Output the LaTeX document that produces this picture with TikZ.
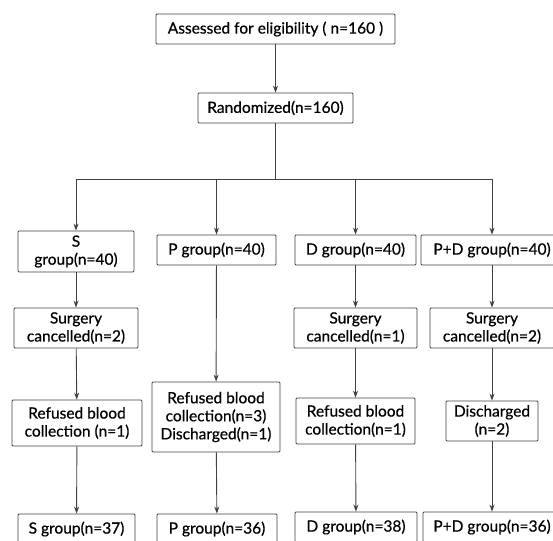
\documentclass[tikz,border=0pt]{standalone}
\usepackage{fontspec}
\setmainfont{Lato}[FakeBold=0.6]
\usetikzlibrary{arrows.meta}

\begin{document}
\begin{tikzpicture}[x=1pt, y=-1pt,
  box/.style={draw=black!75, line width=0.8pt, rounded corners=1pt, align=center, inner sep=2pt,
    font=\fontsize{15.5}{18}\selectfont, text=black},
  flow/.style={draw=black!75, line width=0.9pt, -{Stealth[length=7pt, width=5pt]}}]
\useasboundingbox (0,0) rectangle (553,540);
\node[box, minimum width=239pt, minimum height=30pt] (elig) at (275.5,29) {Assessed for eligibility ( n=160 )};
\node[box, minimum width=155pt, minimum height=30pt] (rand) at (275.5,108) {Randomized(n=160)};
\node[box, text width=112pt, minimum height=41pt] (s1) at (76,251.5) {S\\group(n=40)};
\node[box, minimum width=119pt, minimum height=30pt] (p1) at (216.5,250) {P group(n=40)};
\node[box, minimum width=121pt, minimum height=30pt] (d1) at (355.5,250) {D group(n=40)};
\node[box, minimum width=142pt, minimum height=30pt] (pd1) at (492,250) {P+D group(n=40)};
\node[box, minimum width=124pt, minimum height=40pt] (s2) at (76,328) {Surgery\\cancelled(n=2)};
\node[box, minimum width=123pt, minimum height=40pt] (d2) at (355.5,328) {Surgery\\cancelled(n=1)};
\node[box, minimum width=124pt, minimum height=40pt] (pd2) at (492,328) {Surgery\\cancelled(n=2)};
\node[box, minimum width=130pt, minimum height=46pt] (s3) at (77,423) {Refused blood\\collection (n=1)};
\node[box, minimum width=128pt, minimum height=70pt] (p3) at (216,417) {Refused blood\\collection(n=3)\\Discharged(n=1)};
\node[box, minimum width=119pt, minimum height=46pt] (d3) at (355.5,421) {Refused blood\\collection(n=1)};
\node[box, minimum width=92pt, minimum height=40pt] (pd3) at (492,421) {Discharged\\(n=2)};
\node[box, minimum width=117pt, minimum height=30pt] (s4) at (76.5,529) {S group(n=37)};
\node[box, minimum width=120pt, minimum height=30pt] (p4) at (217,529) {P group(n=36)};
\node[box, minimum width=122pt, minimum height=30pt] (d4) at (356,527) {D group(n=38)};
\node[box, minimum width=138pt, minimum height=30pt] (pd4) at (492,527) {P+D group(n=36)};
\coordinate (split) at (275.5,179);
\coordinate (splitl) at (76,179);
\coordinate (splitr) at (492,179);
\draw[flow] (elig) -- (rand);
\draw[draw=black!75, line width=0.9pt] (rand) -- (split) (splitl) -- (splitr);
\draw[flow] (splitl) -- (s1);
\draw[flow] (p1 |- split) -- (p1);
\draw[flow] (d1 |- split) -- (d1);
\draw[flow] (splitr) -- (pd1);
\draw[flow] (s1) -- (s2);
\draw[flow] (s2) -- (s3);
\draw[flow] (s3) -- (s4);
\draw[flow] (p1) -- (p3);
\draw[flow] (p3) -- (p4);
\draw[flow] (d1) -- (d2);
\draw[flow] (d2) -- (d3);
\draw[flow] (d3) -- (d4);
\draw[flow] (pd1) -- (pd2);
\draw[flow] (pd2) -- (pd3);
\draw[flow] (pd3) -- (pd4);
\end{tikzpicture}
\end{document}
